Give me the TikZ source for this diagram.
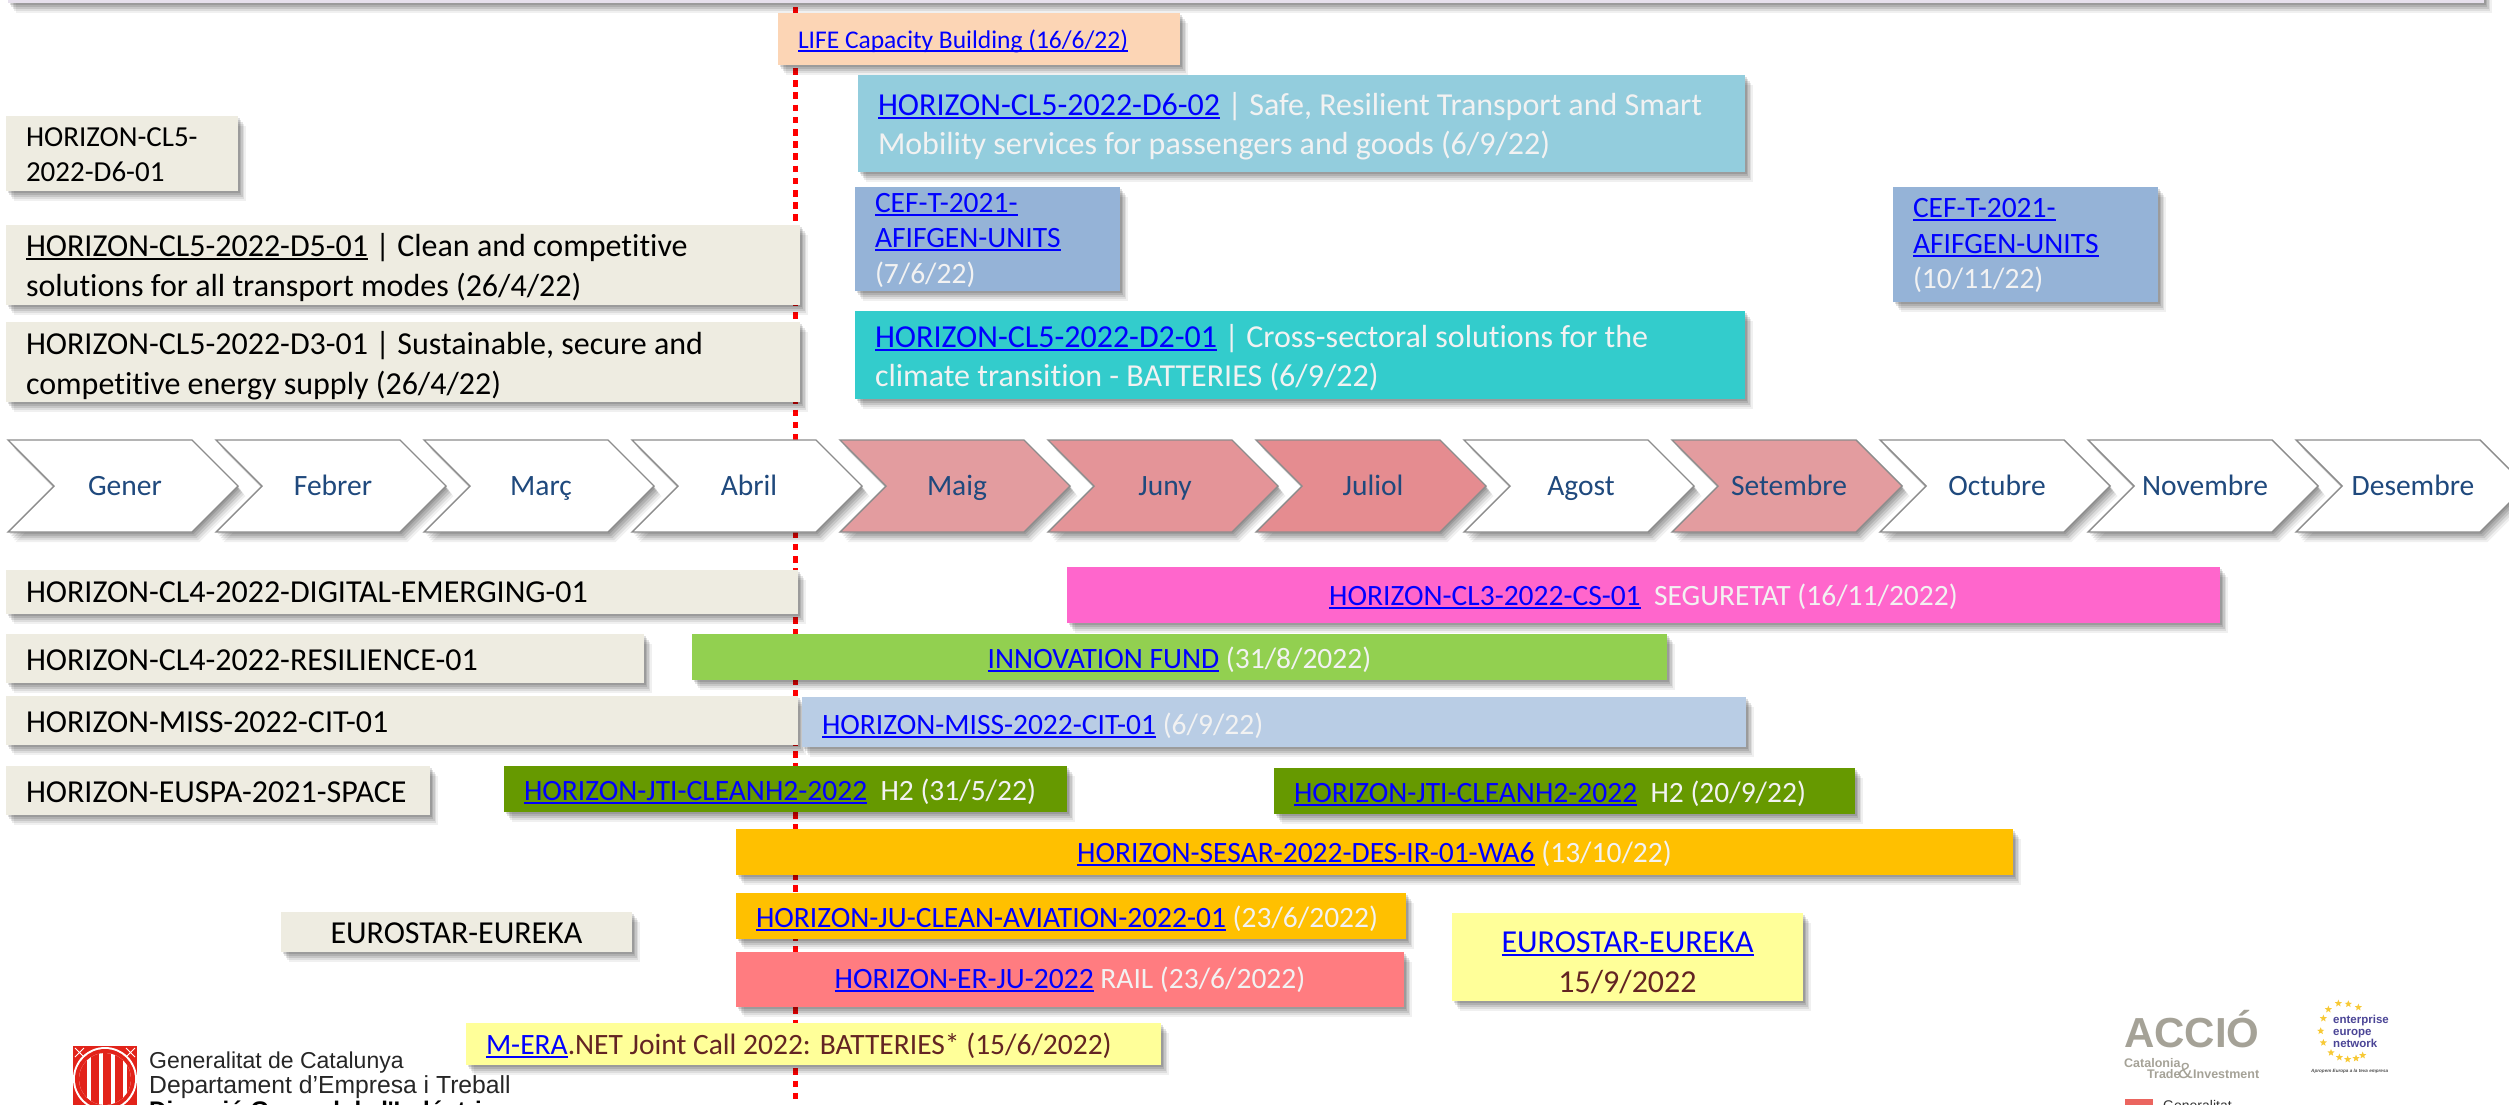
\documentclass[tikz,border=0pt]{standalone}
\usepackage{fontspec}
\setmainfont{Carlito}[Ligatures=CommonOff]
\newfontfamily\logofont{Liberation Sans}
\usetikzlibrary{shadows,shapes.geometric}
\definecolor{greybox}{HTML}{EEECE1}
\definecolor{lk}{HTML}{0000FF}
\definecolor{chevtext}{HTML}{1F497D}
\definecolor{maroon}{HTML}{632423}
\definecolor{softwhite}{HTML}{F2F2F2}
\definecolor{lifefill}{HTML}{FCD5B5}
\definecolor{aquafill}{HTML}{93CDDD}
\definecolor{ceffill}{HTML}{95B3D7}
\definecolor{tealfill}{HTML}{33CCCC}
\definecolor{pinkfill}{HTML}{FF66CC}
\definecolor{greenfill}{HTML}{92D050}
\definecolor{missfill}{HTML}{B9CDE5}
\definecolor{olivefill}{HTML}{669900}
\definecolor{amberfill}{HTML}{FFC000}
\definecolor{rosefill}{HTML}{FF7C80}
\definecolor{yellowfill}{HTML}{FFFF99}
\definecolor{bandfill}{HTML}{E6E0EC}
\definecolor{monthA}{HTML}{E39C9F}
\definecolor{monthB}{HTML}{E49498}
\definecolor{monthC}{HTML}{E58C90}
\definecolor{catred}{HTML}{E2231A}
\definecolor{acciogrey}{HTML}{A5A297}
\definecolor{eenblue}{HTML}{4B4596}
\definecolor{eengold}{HTML}{F7C936}
\newcommand\lk[1]{\leavevmode\setbox0\hbox{#1}\rlap{\color{lk}\rule[-3.5pt]{\wd0}{2pt}}\textcolor{lk}{#1}}
\newcommand\plainul[1]{\leavevmode\setbox0\hbox{#1}\rlap{\rule[-3.5pt]{\wd0}{2pt}}#1}
\tikzset{
  softshadow/.style={
    general shadow={shadow xshift=7.5pt,shadow yshift=-10pt,opacity=.06,fill=black},
    general shadow={shadow xshift=6pt,shadow yshift=-8pt,opacity=.08,fill=black},
    general shadow={shadow xshift=4.5pt,shadow yshift=-6pt,opacity=.10,fill=black},
    general shadow={shadow xshift=3pt,shadow yshift=-4pt,opacity=.11,fill=black},
    general shadow={shadow xshift=1.5pt,shadow yshift=-2pt,opacity=.12,fill=black}},
  chev/.style={softshadow,draw=black!45,line width=1.4pt,line join=miter},
  chevlabel/.style={text=chevtext,font=\fontsize{29.5}{34}\selectfont,inner sep=0pt,anchor=base},
  logotext/.style={anchor=base west,inner sep=0pt,font=\logofont},
  eenstar/.style={star,star points=5,star point ratio=2.3,fill=eengold,inner sep=0pt,minimum size=7.5pt}
}
% name, x1, y1, x2, y2, fill, text colour, alignment, text (font and text shift set by the wrappers below)
\newcommand\callbox[9]{%
  \pgfmathsetmacro{\boxcx}{(#2+#4)/2}%
  \pgfmathsetmacro{\boxcy}{(#3+#5)/2}%
  \pgfmathsetmacro{\boxty}{\boxcy+\tshift}%
  \pgfmathsetmacro{\boxw}{#4-#2}%
  \pgfmathsetmacro{\boxtw}{#4-#2-40}%
  \pgfmathsetmacro{\boxh}{#5-#3}%
  \node[softshadow,fill=#6,inner sep=0pt,minimum width=\boxw pt,minimum height=\boxh pt] (#1) at (\boxcx,\boxcy) {};
  \node[text=#7,align=flush #8,text width=\boxtw pt,inner sep=0pt,font=\curfont] (#1-text) at (\boxcx,\boxty) {#9};}
\newcommand\largebox[1][2.5]{\def\tshift{#1}\def\curfont{\fontsize{32}{39.5}\selectfont}\callbox}
\newcommand\midbox[1][2.5]{\def\tshift{#1}\def\curfont{\fontsize{29.5}{35.5}\selectfont}\callbox}
\newcommand\sidebox[1][2.5]{\def\tshift{#1}\def\curfont{\fontsize{29}{35}\selectfont}\callbox}
\newcommand\smallbox[1][2.5]{\def\tshift{#1}\def\curfont{\fontsize{25.5}{30}\selectfont}\callbox}
% name, index, fill, label
\newcommand\monthchev[4]{%
  \pgfmathsetmacro{\mx}{8+208*#2}%
  \draw[chev,fill=#3] (\mx,440) -- ++(184,0) -- ++(46,46) -- ++(-46,46) -- ++(-184,0) -- ++(46,-46) -- cycle;
  \node[chevlabel] (#1) at (\mx+117,495) {#4};}
\begin{document}
\begin{tikzpicture}[x=1pt,y=-1pt]
\useasboundingbox (0,0) rectangle (2509,1104);
\clip (0,0) rectangle (2509,1104);
% deadline line
\coordinate (lineTop) at (795,7);
\coordinate (lineEnd) at (795,1104);
\draw[red,line width=5pt,dash pattern=on 6.5pt off 5.7pt] (lineTop) -- (lineEnd);
% top band
\fill[softshadow,fill=bandfill] (8,-40) rectangle (2484,3);
% upper boxes
\smallbox{life}{778}{13}{1180}{65}{lifefill}{black}{left}{\lk{LIFE Capacity Building (16/6/22)}}
\largebox{dsix}{858}{75}{1745}{172}{aquafill}{softwhite}{left}{\lk{HORIZON-CL5-2022-D6-02} | Safe, Resilient Transport and Smart\\Mobility services for passengers and goods (6/9/22)}
\sidebox[1]{dsixa}{6}{116}{238}{191}{greybox}{black}{left}{HORIZON-CL5-\\2022-D6-01}
\largebox{dfive}{6}{225}{800}{305}{greybox}{black}{left}{\plainul{HORIZON-CL5-2022-D5-01} | Clean and competitive\\solutions for all transport modes (26/4/22)}
\largebox[3.5]{dthree}{6}{322}{800}{402}{greybox}{black}{left}{HORIZON-CL5-2022-D3-01 | Sustainable, secure and\\competitive energy supply (26/4/22)}
\midbox[1]{cefa}{855}{187}{1120}{291}{ceffill}{softwhite}{left}{\lk{CEF-T-2021-}\\\lk{AFIFGEN-UNITS}\\(7/6/22)}
\midbox[1]{cefb}{1893}{187}{2158}{302}{ceffill}{softwhite}{left}{\lk{CEF-T-2021-}\\\lk{AFIFGEN-UNITS}\\(10/11/22)}
\largebox{dtwo}{855}{311}{1745}{399}{tealfill}{softwhite}{left}{\lk{HORIZON-CL5-2022-D2-01} | Cross-sectoral solutions for the\\climate transition - BATTERIES (6/9/22)}
% month chevrons
\monthchev{gener}{0}{white}{Gener}
\monthchev{febrer}{1}{white}{Febrer}
\monthchev{marc}{2}{white}{Març}
\monthchev{abril}{3}{white}{Abril}
\monthchev{maig}{4}{monthA}{Maig}
\monthchev{juny}{5}{monthB}{Juny}
\monthchev{juliol}{6}{monthC}{Juliol}
\monthchev{agost}{7}{white}{Agost}
\monthchev{setembre}{8}{monthA}{Setembre}
\monthchev{octubre}{9}{white}{Octubre}
\monthchev{novembre}{10}{white}{Novembre}
\monthchev{desembre}{11}{white}{Desembre}
% lower boxes
\largebox[0]{digital}{6}{570}{798}{614}{greybox}{black}{left}{HORIZON-CL4-2022-DIGITAL-EMERGING-01}
\largebox[1.5]{resil}{6}{634}{644}{683}{greybox}{black}{left}{HORIZON-CL4-2022-RESILIENCE-01}
\largebox[1.5]{missa}{6}{696}{798}{745}{greybox}{black}{left}{HORIZON-MISS-2022-CIT-01}
\largebox[1.5]{euspa}{6}{766}{430}{815}{greybox}{black}{left}{HORIZON-EUSPA-2021-SPACE}
\midbox[3]{cleana}{504}{766}{1067}{812}{olivefill}{softwhite}{left}{\lk{HORIZON-JTI-CLEANH2-2022}\ \ H2 (31/5/22)}
\midbox[3]{cleanb}{1274}{768}{1855}{814}{olivefill}{softwhite}{left}{\lk{HORIZON-JTI-CLEANH2-2022}\ \ H2 (20/9/22)}
\midbox[1.5]{pink}{1067}{567}{2220}{623}{pinkfill}{softwhite}{center}{\lk{HORIZON-CL3-2022-CS-01}\ \ SEGURETAT (16/11/2022)}
\midbox[3]{innov}{692}{634}{1667}{680}{greenfill}{softwhite}{center}{\lk{INNOVATION FUND} (31/8/2022)}
\midbox[4]{missb}{802}{697}{1746}{747}{missfill}{softwhite}{left}{\lk{HORIZON-MISS-2022-CIT-01} (6/9/22)}
\midbox[1.5]{sesar}{736}{829}{2013}{875}{amberfill}{softwhite}{center}{\lk{HORIZON-SESAR-2022-DES-IR-01-WA6} (13/10/22)}
\midbox[3]{aviation}{736}{893}{1406}{939}{amberfill}{softwhite}{left}{\lk{HORIZON-JU-CLEAN-AVIATION-2022-01} (23/6/2022)}
\midbox[0]{erju}{736}{952}{1404}{1007}{rosefill}{softwhite}{center}{\lk{HORIZON-ER-JU-2022} RAIL (23/6/2022)}
\largebox[1.5]{eurogrey}{281}{912}{632}{952}{greybox}{black}{center}{EUROSTAR-EUREKA}
\largebox[6]{euroyellow}{1452}{913}{1803}{1001}{yellowfill}{maroon}{center}{\lk{EUROSTAR-EUREKA}\\15/9/2022}
\midbox[1.5]{mera}{466}{1023}{1161}{1065}{yellowfill}{maroon}{left}{\lk{M-ERA}.NET Joint Call 2022: BATTERIES* (15/6/2022)}
% Generalitat emblem
\fill[catred] (73,1046) rectangle (137,1110);
\fill[white] (105,1079) circle (32);
\fill[catred] (105,1079) circle (30);
\fill[white] (105,1079) circle (26);
\begin{scope}
  \clip (105,1079) circle (26);
  \foreach \sx in {80,92,104,116,128}{\fill[catred] (\sx-1,1046) rectangle (\sx+7,1110);}
\end{scope}
\draw[white,line width=.8pt] (75,1048) -- (84,1057) (84,1048) -- (75,1057) (135,1048) -- (126,1057) (126,1048) -- (135,1057);
\node[logotext,font=\logofont\fontsize{23}{24}\selectfont,text=black!85] (gen1) at (149,1068) {Generalitat de Catalunya};
\node[logotext,font=\logofont\fontsize{24.7}{24}\selectfont,text=black!85] (gen2) at (149,1093) {Departament d’Empresa i Treball};
\node[logotext,font=\logofont\bfseries\fontsize{24}{24}\selectfont,text=black] (gen3) at (149,1118) {Direcció General de l'Indústria};
% ACCIO logo
\node[logotext,font=\logofont\bfseries\fontsize{42}{42}\selectfont,text=acciogrey] (accio) at (2124,1047) {ACCIÓ};
\node[logotext,font=\logofont\bfseries\fontsize{12.5}{13}\selectfont,text=acciogrey] (catalonia) at (2124,1067) {Catalonia};
\node[logotext,font=\logofont\bfseries\fontsize{12.5}{13}\selectfont,text=acciogrey] (trade) at (2147,1078) {Trade};
\node[logotext,font=\logofont\fontsize{22}{22}\selectfont,text=acciogrey] (amp) at (2178,1078) {\&};
\node[logotext,font=\logofont\bfseries\fontsize{12.5}{13}\selectfont,text=acciogrey] (invest) at (2193,1078) {Investment};
% Enterprise Europe Network logo
\foreach[count=\i] \a/\b in {865/70,895/72,925/82,835/88,820/115,812/153,820/188,843/218,868/232,893/238,918/235,938/226}
  {\node[eenstar] (star\i) at ({2050+\a/3},{980+\b/3}) {};}
\node[logotext,font=\logofont\bfseries\fontsize{11.5}{12}\selectfont,text=eenblue] (een1) at (2333,1023) {enterprise};
\node[logotext,font=\logofont\bfseries\fontsize{11.5}{12}\selectfont,text=eenblue] (een2) at (2333,1035) {europe};
\node[logotext,font=\logofont\bfseries\fontsize{11.5}{12}\selectfont,text=eenblue] (een3) at (2333,1047) {network};
\node[logotext,font=\logofont\itshape\bfseries\fontsize{4.6}{6}\selectfont,text=black!70] (eentag) at (2311,1072) {Apropem Europa a la teva empresa};
% cropped logo at the bottom
\fill[catred!70!white] (2125,1099) rectangle (2153,1110);
\node[logotext,font=\logofont\fontsize{14}{14}\selectfont,text=black!80] (gencrop) at (2163,1110) {Generalitat};
\end{tikzpicture}
\end{document}
